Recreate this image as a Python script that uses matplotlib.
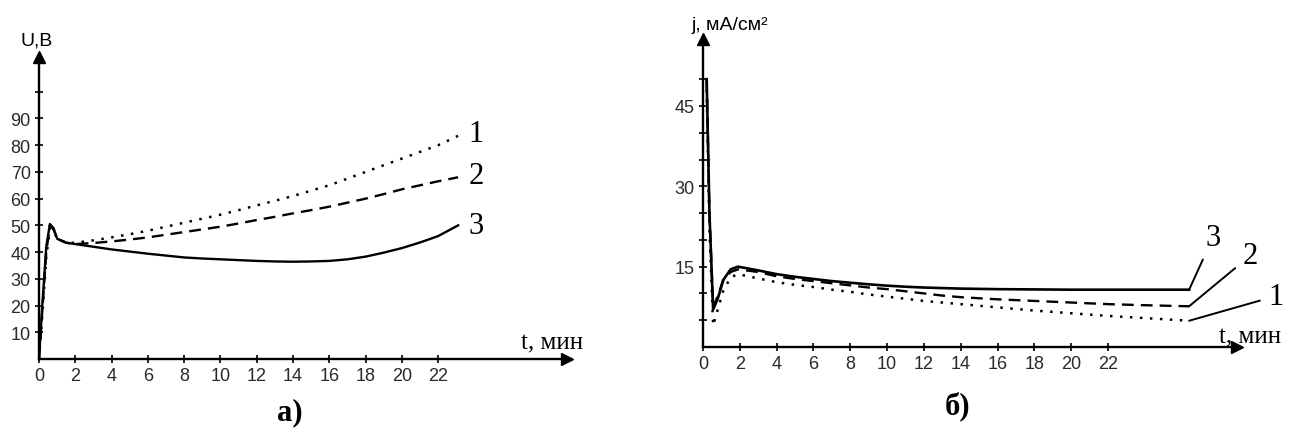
import matplotlib
matplotlib.use("Agg")
import matplotlib.pyplot as plt

# ---- panel a) : U(t) ----
t_a = [0, 0.2, 0.4, 0.6, 0.8, 1.0, 1.5, 2, 3, 4, 5, 6, 7, 8, 9, 10, 11, 12,
       13, 14, 15, 16, 17, 18, 19, 20, 21, 22, 23.1]
u1 = [0, 18, 38, 49, 48, 45, 43.5, 43.5, 44.4, 45.5, 46.7, 48, 49.5, 51, 52.5, 54,
      55.7, 57.5, 59.2, 61, 63, 65, 67.5, 70, 72.5, 75, 77.5, 80, 83.5]
u2 = [0, 20, 40, 50, 48.5, 45, 43.5, 43, 43.4, 44, 44.7, 45.5, 46.5, 47.5, 48.5, 49.5,
      50.7, 52, 53.2, 54.5, 55.7, 57, 58.5, 60, 61.7, 63.5, 65, 66.5, 68]
u3 = [0, 22, 42, 50.5, 49, 45, 43.5, 43, 42, 41, 40.2, 39.4, 38.7, 38, 37.6, 37.3,
      37, 36.7, 36.5, 36.4, 36.5, 36.7, 37.3, 38.3, 39.8, 41.5, 43.6, 46, 50]

# ---- panel b) : j(t) ----
t_b = [0.2, 0.35, 0.55, 0.8, 1.1, 1.5, 1.9, 3, 4, 5, 6, 7, 8, 9, 10, 11, 12, 13,
       14, 16, 18, 20, 22, 24, 26.4]
j1 = [48, 22, 4, 7, 10.5, 13, 13.6, 12.8, 12.1, 11.6, 11.2, 10.7, 10.3, 9.8, 9.4,
      9.0, 8.6, 8.3, 8.0, 7.4, 6.8, 6.3, 5.8, 5.4, 4.9]
j2 = [50, 25, 7.5, 9.5, 12.5, 14, 14.5, 14, 13.2, 12.7, 12.3, 11.9, 11.5, 11.1, 10.8,
      10.4, 10.0, 9.6, 9.3, 8.9, 8.6, 8.3, 8.0, 7.8, 7.6]
j3 = [50, 25, 7, 9, 12.5, 14.5, 15, 14.3, 13.6, 13.1, 12.7, 12.3, 12.0, 11.7, 11.45,
      11.25, 11.1, 11.0, 10.9, 10.8, 10.75, 10.7, 10.7, 10.7, 10.7]

x_ticks = list(range(0, 23, 2))
W, H = 1297, 435
sans = "Liberation Sans"
serif = "Liberation Serif"

fig = plt.figure(figsize=(W / 100, H / 100), dpi=100)


def make_axes(x0, x1, y0, y1, xmax, ymax):
    ax = fig.add_axes([x0 / W, 1 - y0 / H, (x1 - x0) / W, (y0 - y1) / H])
    ax.set_xlim(0, xmax)
    ax.set_ylim(0, ymax)
    for s in ["top", "right"]:
        ax.spines[s].set_visible(False)
    for s in ["left", "bottom"]:
        ax.spines[s].set_linewidth(1.7)
    ax.plot(1, 0, ">k", ms=9, transform=ax.get_yaxis_transform(), clip_on=False)
    ax.plot(0, 1, "^k", ms=9, transform=ax.get_xaxis_transform(), clip_on=False)
    ax.tick_params(direction="inout", length=6, width=1.2, labelsize=13,
                   labelcolor="#2a2a2a", pad=3)
    ax.set_xticks(x_ticks)
    return ax


# panel a
ax1 = make_axes(39, 567, 360, 58, 29.1, 113)
ax1.set_yticks(range(10, 101, 10))
ax1.set_yticklabels([str(v) for v in range(10, 91, 10)] + [""], fontfamily=sans)
ax1.set_xticklabels([str(v) for v in x_ticks], fontfamily=sans)
ax1.plot(t_a, u1, color="k", lw=1.8, ls=(0, (1, 3)))
ax1.plot(t_a, u2, color="k", lw=1.7, ls=(0, (5, 3)))
ax1.plot(t_a, u3, color="k", lw=1.7)
for lab, y in zip(["1", "2", "3"], [84.5, 68.5, 50]):
    ax1.text(24.1, y, lab, fontsize=22, family=serif, ha="center", va="center")
fig.text(37 / W, 1 - 41 / H, "U,B", fontsize=14, family=sans, ha="center", va="center")
fig.text(552 / W, 1 - 343 / H, "t, мин", fontsize=18, family=serif, ha="center", va="center")
fig.text(290 / W, 1 - 413 / H, "а)", fontsize=22, family=serif, weight="bold",
         ha="center", va="center")

# panel b
ax2 = make_axes(703, 1237, 348, 40, 29.0, 57.5)
ax2.set_yticks(range(5, 51, 5))
ax2.set_yticklabels(["" if v % 15 else str(v) for v in range(5, 51, 5)], fontfamily=sans)
ax2.set_xticklabels([str(v) for v in x_ticks], fontfamily=sans)
ax2.plot(t_b, j1, color="k", lw=1.8, ls=(0, (1, 3)))
ax2.plot(t_b, j2, color="k", lw=1.7, ls=(0, (5, 3)))
ax2.plot(t_b, j3, color="k", lw=1.9)
labels_b = [("3", j3[-1], 27.7, 20.5), ("2", j2[-1], 29.7, 17.0), ("1", j1[-1], 31.1, 9.5)]
for lab, yend, tx, ty in labels_b:
    ax2.annotate(lab, xy=(t_b[-1], yend), xytext=(tx, ty), fontsize=22, family=serif,
                 ha="center", va="center", annotation_clip=False,
                 arrowprops=dict(arrowstyle="-", color="k", lw=1.4, shrinkA=4, shrinkB=0))
fig.text(730 / W, 1 - 25 / H, "j, мА/см²", fontsize=14, family=sans, ha="center", va="center")
fig.text(1250 / W, 1 - 337 / H, "t, мин", fontsize=18, family=serif, ha="center", va="center")
fig.text(958 / W, 1 - 406 / H, "б)", fontsize=22, family=serif, weight="bold",
         ha="center", va="center")

fig.savefig("out.png", dpi=100)
